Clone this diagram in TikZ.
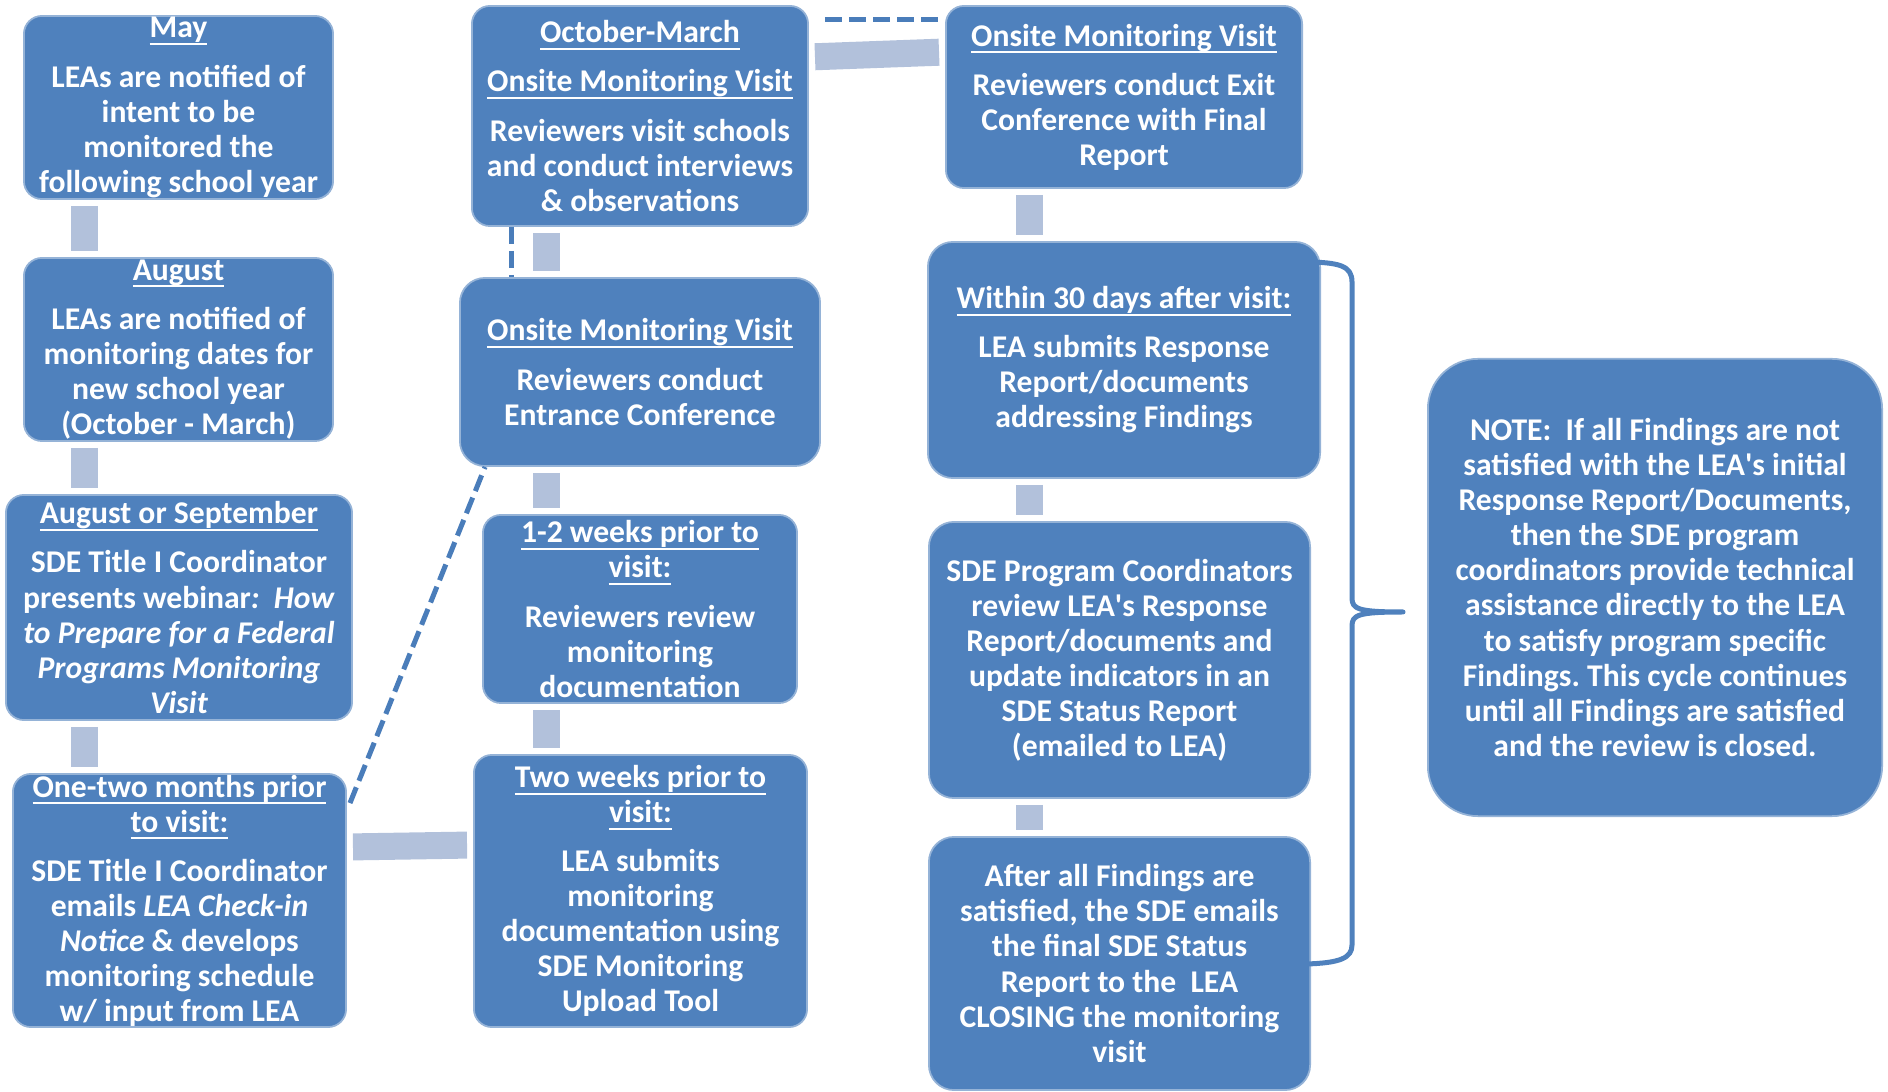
\documentclass[tikz,border=0pt]{standalone}
\usepackage{fontspec}
\setmainfont{Carlito}
\usetikzlibrary{calc}
\definecolor{boxblue}{HTML}{4F81BD}
\definecolor{barblue}{HTML}{B2C1DB}
\definecolor{dashblue}{HTML}{4A7DBA}
\newsavebox\hdbox
\newcommand\hdline[1]{\sbox\hdbox{#1}\rlap{\rule[-2pt]{\wd\hdbox}{0.55pt}}\usebox\hdbox}
\newcommand\apos{\textquotesingle}
\frenchspacing

\begin{document}
\begin{tikzpicture}[x=0.01cm,y=-0.01cm,
	stage/.style={rectangle,rounded corners=0.18cm,fill=boxblue,draw=boxblue!60!white,line width=0.5pt,
		text=white,align=center,inner sep=0pt,font=\fontsize{9}{9.96}\selectfont\bfseries},
	bar/.style={barblue,line width=0.27cm,shorten <=0.06cm,shorten >=0.06cm},
	dashlink/.style={dashblue,line width=0.05cm,dash pattern=on 0.17cm off 0.07cm},
	bracket/.style={boxblue,line width=0.05cm,line cap=round,line join=round}]
		\useasboundingbox (0,0) rectangle (1888,1092);

		\node[stage,minimum width=3.09cm,minimum height=1.83cm]
		(may) at (178.5,107.5)		{\hdline{May}\\[4pt]LEAs are notified of\\intent to be\\monitored the\\following school year};
		\node[stage,minimum width=3.09cm,minimum height=1.83cm]
		(august) at (178.5,349.5)	{\hdline{August}\\[4pt]LEAs are notified of\\monitoring dates for\\new school year\\(October - March)};
		\node[stage,minimum width=3.46cm,minimum height=2.25cm]
		(augsep) at (179,607.5)		{\hdline{August or September}\\[4pt]SDE Title I Coordinator\\presents webinar\textit{:\ \ How}\\\textit{to Prepare for a Federal}\\\textit{Programs Monitoring}\\\textit{Visit}};
		\node[stage,minimum width=3.33cm,minimum height=2.53cm]
		(onetwo) at (179.5,900.5)	{\hdline{One-two months prior}\\\hdline{to visit:}\\[4pt]SDE Title I Coordinator\\emails \textit{LEA Check-in}\\\textit{Notice} \& develops\\monitoring schedule\\w/ input from LEA};

		\node[stage,minimum width=3.36cm,minimum height=2.20cm]
		(octmar) at (640,116)		{\hdline{October-March}\\[4pt]\hdline{Onsite Monitoring Visit}\\[4pt]Reviewers visit schools\\and conduct interviews\\\& observations};
		\node[stage,rounded corners=0.25cm,minimum width=3.60cm,minimum height=1.88cm]
		(entrance) at (640,372)		{\hdline{Onsite Monitoring Visit}\\[4pt]Reviewers conduct\\Entrance Conference};
		\node[stage,minimum width=3.14cm,minimum height=1.88cm]
		(weeks) at (640,609)		{\hdline{1-2 weeks prior to}\\\hdline{visit:}\\[4pt]Reviewers review\\monitoring\\documentation};
		\node[stage,minimum width=3.33cm,minimum height=2.72cm]
		(twoweeks) at (640.5,891)	{\hdline{Two weeks prior to}\\\hdline{visit:}\\[4pt]LEA submits\\monitoring\\documentation using\\SDE Monitoring\\Upload Tool};

		\node[stage,minimum width=3.56cm,minimum height=1.82cm]
		(exit) at (1124,97)			{\hdline{Onsite Monitoring Visit}\\[4pt]Reviewers conduct Exit\\Conference with Final\\Report};
		\node[stage,rounded corners=0.25cm,minimum width=3.92cm,minimum height=2.36cm]
		(within) at (1124,360)		{\hdline{Within 30 days after visit:}\\[4pt]LEA submits Response\\Report/documents\\addressing Findings};
		\node[stage,rounded corners=0.25cm,minimum width=3.81cm,minimum height=2.76cm]
		(review) at (1119.5,660)	{SDE Program Coordinators\\review LEA\apos s Response\\Report/documents and\\update indicators in an\\SDE Status Report\\(emailed to LEA)};
		\node[stage,rounded corners=0.25cm,minimum width=3.81cm,minimum height=2.53cm]
		(closing) at (1119.5,963.5)	{After all Findings are\\satisfied, the SDE emails\\the final SDE Status\\Report to the\ \ LEA\\CLOSING the monitoring\\visit};

		\node[stage,rounded corners=0.5cm,minimum width=4.54cm,minimum height=4.57cm]
		(note) at (1655,587.5)		{NOTE:\ \ If all Findings are not\\satisfied with the LEA\apos s initial\\Response Report/Documents,\\then the SDE program\\coordinators provide technical\\assistance directly to the LEA\\to satisfy program specific\\Findings. This cycle continues\\until all Findings are satisfied\\and the review is closed.};

		\coordinate (c1) at (84.5,0);
		\coordinate (c2) at (546,0);
		\coordinate (c3) at (1029,0);

		\draw[bar] (may.south -| c1) -- (august.north -| c1);
		\draw[bar] (august.south -| c1) -- (augsep.north -| c1);
		\draw[bar] (augsep.south -| c1) -- (onetwo.north -| c1);
		\draw[bar] (octmar.south -| c2) -- (entrance.north -| c2);
		\draw[bar] (entrance.south -| c2) -- (weeks.north -| c2);
		\draw[bar] (weeks.south -| c2) -- (twoweeks.north -| c2);
		\draw[bar] (exit.south -| c3) -- (within.north -| c3);
		\draw[bar] (within.south -| c3) -- (review.north -| c3);
		\draw[bar] (review.south -| c3) -- (closing.north -| c3);
		\draw[bar] (onetwo.east |- 0,847) -- (twoweeks.west |- 0,845);
		\draw[bar] (octmar.east |- 0,57) -- (exit.west |- 0,52);

		\draw[dashlink] ([xshift=0.16cm]octmar.east |- 0,20) -- (exit.west |- 0,20);
		\draw[dashlink] (octmar.south -| 511,0) -- (entrance.north -| 511,0);
		\draw[dashlink] ([xshift=0.03cm,yshift=-0.3cm]onetwo.north east) -- ([xshift=0.26cm]entrance.south west);

		\draw[bracket] (1303,262) .. controls (1340,262) and (1352,266) .. (1352,282) -- (1352,598)
			.. controls (1352,609) and (1358,612) .. (1403,612)
			.. controls (1358,612) and (1352,615) .. (1352,626) -- (1352,945)
			.. controls (1352,958) and (1340,963) .. (1306,964);
\end{tikzpicture}
\end{document}
